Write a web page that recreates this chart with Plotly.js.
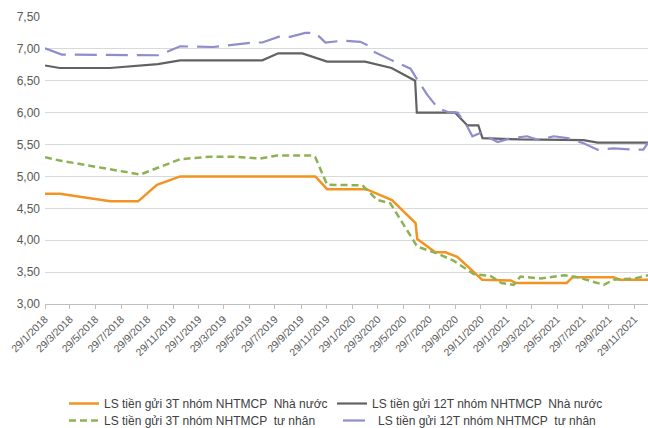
<!DOCTYPE html>
<html>
<head>
<meta charset="utf-8">
<script src="https://cdn.plot.ly/plotly-3.0.1.min.js"></script>
<style>html,body{margin:0;padding:0;background:#fff;}#chart{width:648px;height:428px;}</style>
</head>
<body>
<div id="chart"></div>
<script>
// Series names
const name3TState = "LS tiền gửi 3T nhóm NHTMCP  Nhà nước";
const name12TState = "LS tiền gửi 12T nhóm NHTMCP  Nhà nước";
const name3TPrivate = "LS tiền gửi 3T nhóm NHTMCP  tư nhân";
const name12TPrivate = "LS tiền gửi 12T nhóm NHTMCP  tư nhân";

// x-axis tick dates and their labels
const tickDates = ["2018-01-29","2018-03-29","2018-05-29","2018-07-29","2018-09-29","2018-11-29",
                   "2019-01-29","2019-03-29","2019-05-29","2019-07-29","2019-09-29","2019-11-29",
                   "2020-01-29","2020-03-29","2020-05-29","2020-07-29","2020-09-29","2020-11-29",
                   "2021-01-29","2021-03-29","2021-05-29","2021-07-29","2021-09-29","2021-11-29"];
const tickLabels = ["29/1/2018","29/3/2018","29/5/2018","29/7/2018","29/9/2018","29/11/2018",
                    "29/1/2019","29/3/2019","29/5/2019","29/7/2019","29/9/2019","29/11/2019",
                    "29/1/2020","29/3/2020","29/5/2020","29/7/2020","29/9/2020","29/11/2020",
                    "29/1/2021","29/3/2021","29/5/2021","29/7/2021","29/9/2021","29/11/2021"];

// 3T – state-owned banks
const dates3TState = ["2018-01-29","2018-03-05","2018-07-03","2018-09-07","2018-10-22","2018-12-16","2019-11-02","2019-11-30","2020-03-02","2020-05-02","2020-06-27","2020-07-01","2020-08-13","2020-09-06","2020-10-04","2020-12-02","2021-02-08","2021-02-19","2021-06-21","2021-07-05","2021-10-10","2021-10-25","2021-12-31"];
const values3TState = [4.73,4.73,4.61,4.61,4.87,5.00,5.00,4.80,4.80,4.63,4.27,4.02,3.81,3.81,3.74,3.38,3.37,3.33,3.33,3.42,3.42,3.38,3.38];

// 12T – state-owned banks
const dates12TState = ["2018-01-29","2018-03-05","2018-07-02","2018-10-24","2018-12-16","2019-06-29","2019-08-06","2019-10-02","2019-11-30","2020-02-28","2020-05-01","2020-06-26","2020-06-30","2020-09-29","2020-10-28","2020-11-23","2020-12-03","2021-03-03","2021-07-31","2021-09-02","2021-12-31"];
const values12TState = [6.74,6.70,6.70,6.76,6.82,6.82,6.93,6.93,6.80,6.80,6.70,6.50,6.00,6.00,5.80,5.80,5.60,5.58,5.57,5.53,5.53];

// 3T – private banks
const dates3TPrivate = ["2018-01-29","2018-03-05","2018-09-12","2018-10-22","2018-12-16","2019-02-25","2019-04-21","2019-06-24","2019-08-04","2019-10-26","2019-11-02","2019-11-30","2020-02-22","2020-03-28","2020-04-28","2020-07-01","2020-08-18","2020-09-25","2020-11-12","2020-12-22","2021-01-17","2021-02-15","2021-03-03","2021-04-20","2021-06-16","2021-07-17","2021-09-17","2021-10-10","2021-11-29","2021-12-31"];
const values3TPrivate = [5.30,5.25,5.03,5.13,5.27,5.31,5.31,5.28,5.33,5.33,5.30,4.87,4.86,4.63,4.58,3.90,3.79,3.68,3.47,3.44,3.33,3.30,3.43,3.40,3.45,3.42,3.30,3.38,3.40,3.45];

// 12T – private banks
const dates12TPrivate = ["2018-01-29","2018-03-10","2018-10-25","2018-12-16","2019-03-04","2019-06-08","2019-06-29","2019-08-11","2019-09-03","2019-10-09","2019-11-02","2019-11-26","2020-01-07","2020-02-17","2020-03-04","2020-03-19","2020-05-02","2020-06-15","2020-07-01","2020-07-25","2020-08-18","2020-09-11","2020-10-05","2020-10-28","2020-11-09","2020-11-28","2020-12-15","2021-01-08","2021-02-08","2021-03-19","2021-04-15","2021-05-21","2021-06-23","2021-07-31","2021-09-02","2021-10-10","2021-11-25","2021-12-20","2021-12-31"];
const values12TPrivate = [7.01,6.91,6.90,7.04,7.03,7.10,7.10,7.20,7.19,7.25,7.25,7.10,7.13,7.11,7.06,6.96,6.82,6.69,6.52,6.28,6.08,6.01,6.00,5.78,5.63,5.68,5.62,5.54,5.60,5.63,5.57,5.63,5.60,5.52,5.42,5.44,5.42,5.42,5.53];

const yTicks = [3,3.5,4,4.5,5,5.5,6,6.5,7,7.5];

const legendFont = {family: "'Liberation Sans',Arial,sans-serif", size: 12, color: '#404040'};

const traces = [
  {x: dates3TState, y: values3TState, name: name3TState, type: 'scatter', mode: 'lines',
   line: {color: '#F39322', width: 2.5}, legend: 'legend'},
  {x: dates3TPrivate, y: values3TPrivate, name: name3TPrivate, type: 'scatter', mode: 'lines',
   line: {color: '#8DB254', width: 2.5, dash: '7px,4px'}, legend: 'legend3'},
  {x: dates12TState, y: values12TState, name: name12TState, type: 'scatter', mode: 'lines',
   line: {color: '#626262', width: 2.2}, legend: 'legend2'},
  {x: dates12TPrivate, y: values12TPrivate, name: name12TPrivate, type: 'scatter', mode: 'lines',
   line: {color: '#8F8DCB', width: 2.2, dash: '22px,9px'}, legend: 'legend4'}
];

function legendAt(px, pyTop) {
  return {
    xref: 'container', yref: 'container',
    x: px / 648, y: 1 - pyTop / 428, xanchor: 'left', yanchor: 'top',
    orientation: 'v', font: legendFont, bgcolor: 'rgba(0,0,0,0)'
  };
}

const layout = {
  width: 648, height: 428,
  margin: {l: 45, r: 0, t: 17, b: 124, autoexpand: false},
  paper_bgcolor: '#ffffff', plot_bgcolor: '#ffffff',
  separators: ',.',
  font: {family: "'Liberation Sans', Arial, sans-serif", color: '#595959'},
  xaxis: {
    type: 'date',
    range: ['2018-01-29', '2021-12-31'],
    tickmode: 'array', tickvals: tickDates, ticktext: tickLabels,
    tickangle: -45,
    tickfont: {size: 10.5, color: '#595959'},
    showgrid: false, zeroline: false,
    showline: true, linecolor: '#BFBFBF', linewidth: 1,
    ticks: 'outside', ticklen: 4, tickcolor: '#BFBFBF',
    automargin: false,
    fixedrange: true
  },
  yaxis: {
    range: [3, 7.5],
    tickvals: yTicks,
    tickformat: '.2f',
    tickfont: {size: 12, color: '#595959'},
    showgrid: true, gridcolor: '#D9D9D9', gridwidth: 1,
    zeroline: false, showline: false, ticks: '',
    ticklabelstandoff: 4,
    automargin: false,
    fixedrange: true
  },
  showlegend: true,
  legend: legendAt(64, 389),
  legend2: legendAt(332, 389),
  legend3: legendAt(64, 406),
  legend4: legendAt(338, 406)
};

Plotly.newPlot('chart', traces, layout, {displayModeBar: false, staticPlot: true});
</script>
</body>
</html>
